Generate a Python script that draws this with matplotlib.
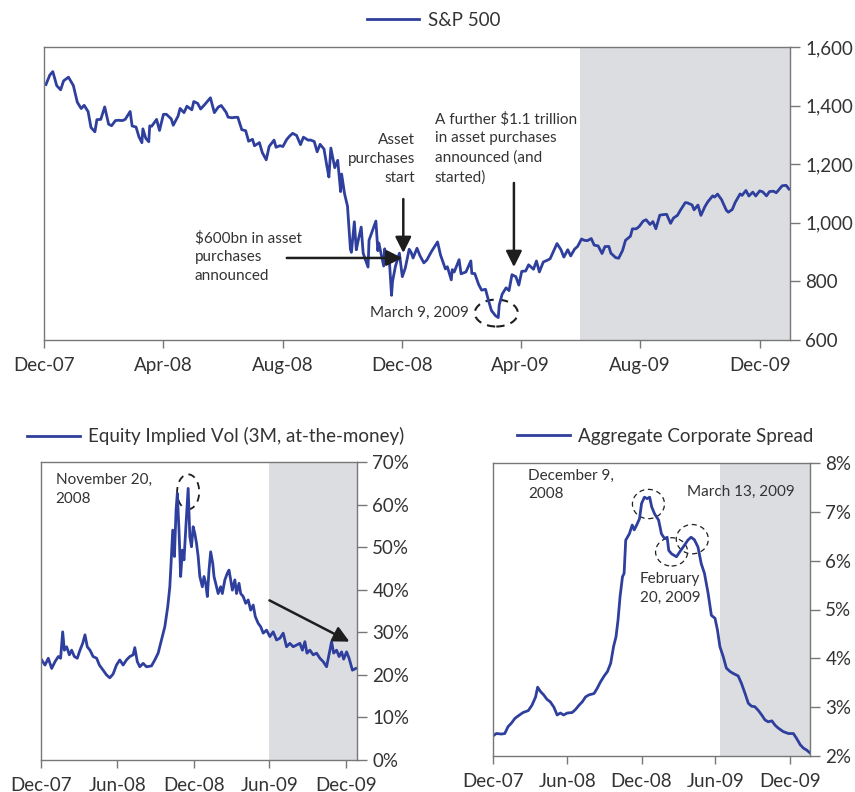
import pandas as pd
import numpy as np
import matplotlib
matplotlib.use('Agg')
import matplotlib.pyplot as plt
import matplotlib.dates as mdates
from matplotlib.lines import Line2D
from matplotlib.patches import Ellipse
from matplotlib.ticker import FuncFormatter, MultipleLocator

plt.rcParams['font.family'] = ['Lato', 'DejaVu Sans']

# S&P 500
spx_dates = ['2007-12-03', '2007-12-07', '2007-12-10', '2007-12-14', '2007-12-18', '2007-12-21', '2007-12-26',
             '2007-12-31', '2008-01-04', '2008-01-08', '2008-01-11', '2008-01-15', '2008-01-18', '2008-01-22',
             '2008-01-24', '2008-01-28', '2008-02-01', '2008-02-05', '2008-02-08', '2008-02-12', '2008-02-15',
             '2008-02-19', '2008-02-22', '2008-02-27', '2008-02-29', '2008-03-04', '2008-03-07', '2008-03-10',
             '2008-03-11', '2008-03-14', '2008-03-17', '2008-03-18', '2008-03-20', '2008-03-25', '2008-03-28',
             '2008-04-01', '2008-04-04', '2008-04-09', '2008-04-11', '2008-04-16', '2008-04-18', '2008-04-22',
             '2008-04-25', '2008-04-30', '2008-05-02', '2008-05-06', '2008-05-09', '2008-05-13', '2008-05-19',
             '2008-05-23', '2008-05-27', '2008-05-30', '2008-06-04', '2008-06-06', '2008-06-10', '2008-06-13',
             '2008-06-16', '2008-06-20', '2008-06-24', '2008-06-27', '2008-07-01', '2008-07-03', '2008-07-08',
             '2008-07-11', '2008-07-15', '2008-07-18', '2008-07-23', '2008-07-25', '2008-07-29', '2008-08-01',
             '2008-08-05', '2008-08-08', '2008-08-11', '2008-08-15', '2008-08-19', '2008-08-22', '2008-08-27',
             '2008-08-29', '2008-09-02', '2008-09-05', '2008-09-08', '2008-09-12', '2008-09-15', '2008-09-17',
             '2008-09-19', '2008-09-23', '2008-09-26', '2008-09-29', '2008-09-30', '2008-10-03', '2008-10-06',
             '2008-10-09', '2008-10-10', '2008-10-13', '2008-10-15', '2008-10-17', '2008-10-20', '2008-10-22',
             '2008-10-24', '2008-10-27', '2008-10-28', '2008-10-31', '2008-11-04', '2008-11-06', '2008-11-07',
             '2008-11-12', '2008-11-13', '2008-11-14', '2008-11-18', '2008-11-20', '2008-11-21', '2008-11-24',
             '2008-11-28', '2008-12-01', '2008-12-04', '2008-12-08', '2008-12-10', '2008-12-12', '2008-12-16',
             '2008-12-19', '2008-12-23', '2008-12-26', '2008-12-31', '2009-01-06', '2009-01-09', '2009-01-14',
             '2009-01-16', '2009-01-20', '2009-01-21', '2009-01-23', '2009-01-28', '2009-01-30', '2009-02-04',
             '2009-02-09', '2009-02-10', '2009-02-13', '2009-02-17', '2009-02-20', '2009-02-24', '2009-02-27',
             '2009-03-02', '2009-03-06', '2009-03-09', '2009-03-10', '2009-03-13', '2009-03-17', '2009-03-20',
             '2009-03-23', '2009-03-27', '2009-03-30', '2009-04-02', '2009-04-06', '2009-04-09', '2009-04-14',
             '2009-04-17', '2009-04-20', '2009-04-24', '2009-04-29', '2009-05-01', '2009-05-08', '2009-05-12',
             '2009-05-15', '2009-05-19', '2009-05-22', '2009-05-26', '2009-05-29', '2009-06-02', '2009-06-05',
             '2009-06-08', '2009-06-12', '2009-06-15', '2009-06-19', '2009-06-23', '2009-06-26', '2009-06-30',
             '2009-07-02', '2009-07-07', '2009-07-10', '2009-07-14', '2009-07-17', '2009-07-22', '2009-07-24',
             '2009-07-28', '2009-07-31', '2009-08-04', '2009-08-07', '2009-08-11', '2009-08-14', '2009-08-17',
             '2009-08-21', '2009-08-25', '2009-08-28', '2009-09-01', '2009-09-04', '2009-09-08', '2009-09-11',
             '2009-09-16', '2009-09-18', '2009-09-23', '2009-09-25', '2009-09-29', '2009-10-02', '2009-10-06',
             '2009-10-09', '2009-10-14', '2009-10-16', '2009-10-19', '2009-10-23', '2009-10-28', '2009-10-30',
             '2009-11-03', '2009-11-06', '2009-11-11', '2009-11-13', '2009-11-17', '2009-11-20', '2009-11-24',
             '2009-11-27', '2009-12-01', '2009-12-04', '2009-12-08', '2009-12-11', '2009-12-15', '2009-12-18',
             '2009-12-24', '2009-12-28', '2009-12-31']
spx_values = [1472, 1504.7, 1516, 1468, 1454, 1484.5, 1497,
              1468.4, 1411.6, 1390, 1401, 1380, 1325.2, 1310.5,
              1352, 1353, 1395.4, 1336.6, 1331.3, 1349, 1350,
              1348.8, 1353.1, 1380, 1330.6, 1326.8, 1293.4, 1273.4,
              1320.7, 1288.1, 1276.6, 1330.7, 1329.5, 1352.9, 1315.2,
              1370.2, 1370.4, 1354.5, 1332.8, 1364.7, 1390.3, 1375.9,
              1397.8, 1385.6, 1413.9, 1407.5, 1388.3, 1403, 1426.6,
              1375.9, 1395, 1400.4, 1377.2, 1360.7, 1358.4, 1360,
              1360.1, 1317.9, 1314.3, 1278.4, 1284.9, 1262.9, 1273.7,
              1239.5, 1214.9, 1260.7, 1282.2, 1257.8, 1263.2, 1260.3,
              1284.9, 1296.3, 1305.3, 1298.2, 1266.7, 1292.2, 1281.7,
              1282.8, 1277.6, 1242.3, 1267.8, 1251.7, 1192.7, 1156.4,
              1255.1, 1188.2, 1213.3, 1106.4, 1166.4, 1099.2, 1056.9,
              909.9, 899.2, 1003.4, 907.8, 940.6, 985.4, 896.8,
              876.8, 848.9, 940.5, 968.8, 1005.8, 904.9, 931.0,
              852.3, 911.3, 873.3, 859.1, 752.4, 800.0, 851.8,
              896.2, 816.2, 845.2, 909.7, 899.2, 879.7, 913.2,
              887.9, 863.2, 872.8, 903.3, 934.7, 890.4, 842.6,
              850.1, 805.2, 840.2, 832.0, 874.1, 825.9, 832.2,
              869.9, 827.2, 826.8, 789.2, 770.1, 773.1, 735.1,
              700.8, 683.4, 676.5, 719.6, 756.6, 778.1, 768.5,
              822.9, 815.9, 787.5, 834.4, 835.5, 856.6, 841.5,
              869.6, 832.4, 866.2, 873.6, 877.5, 929.2, 908.4,
              882.9, 908.1, 887.0, 910.3, 919.1, 944.7, 940.1,
              939.1, 946.2, 923.7, 921.2, 895.1, 918.9, 919.3,
              896.4, 881.0, 879.1, 905.8, 940.4, 954.1, 979.3,
              979.6, 987.5, 1005.7, 1010.5, 994.4, 1004.1, 979.7,
              1026.1, 1028.1, 1028.9, 998.0, 1016.4, 1025.4, 1042.7,
              1068.8, 1068.3, 1060.9, 1044.4, 1060.6, 1025.2, 1054.7,
              1071.5, 1092.0, 1087.7, 1097.9, 1079.6, 1042.6, 1036.2,
              1045.4, 1069.3, 1098.5, 1093.5, 1110.3, 1091.4, 1104.7,
              1091.5, 1108.9, 1106.0, 1091.9, 1106.4, 1107.9, 1102.5,
              1126.5, 1127.8, 1115.1]

# Equity implied vol, 3M ATM (%) -- x as days after 1 Dec 2007
vol_days = [1.6, 9.6, 17.5, 25.6, 33.6, 41.5, 47, 52, 56, 61.5, 68, 73.5, 80, 87, 93.5, 100, 105.5, 111,
            117.5, 125, 133.5, 140, 149, 157, 165, 173, 181, 189, 197, 205, 213, 221, 225, 231, 237, 245,
            253, 265, 273, 281, 289, 297, 304, 309, 312, 316, 320, 324, 327, 331, 335, 339, 343, 348, 353,
            357, 361, 365, 369, 373, 377, 381, 387, 391, 395, 399, 403, 407, 412, 415, 421, 425, 431, 435,
            441, 447, 451, 455, 459, 465, 469, 475, 479, 485, 491, 497, 503, 509, 514, 521, 527, 533, 541,
            549, 557, 565, 573, 581, 589, 597, 605, 613, 621, 627, 633, 638, 645, 653, 661, 669, 677, 685,
            693, 697, 702, 709, 715, 721, 726, 733, 739, 747, 755]
vol_values = [23.5, 22.3, 23.9, 21.5, 23.1, 24.3, 23.9, 30.1, 25.8, 26.6, 24.7, 25.8, 24.3, 23.9, 25.8,
              27.4, 29.4, 26.6, 25.8, 24.3, 23.9, 22.3, 21.1, 20.0, 19.3, 20.2, 22.3, 23.5, 22.3, 23.5,
              24.3, 24.7, 26.4, 23.1, 21.9, 22.7, 21.9, 22.1, 23.5, 25.1, 28.2, 31.3, 36.0, 40.7, 46.2,
              54.0, 47.8, 58.7, 62.6, 54.0, 43.1, 49.3, 47.0, 55.6, 63.8, 52.5, 50.1, 54.8, 53.2, 50.9,
              47.8, 43.1, 40.7, 43.1, 41.5, 38.4, 44.6, 48.9, 46.2, 43.1, 40.7, 39.1, 40.7, 39.1, 42.3,
              43.9, 44.6, 42.3, 39.9, 42.3, 39.1, 41.5, 39.1, 38.4, 36.8, 37.6, 35.2, 36.4, 33.7, 32.1,
              31.3, 29.8, 30.5, 29.0, 30.1, 28.2, 28.6, 29.8, 26.6, 27.4, 26.6, 27.0, 27.4, 25.8, 27.8,
              25.1, 25.8, 24.7, 25.1, 23.9, 23.1, 21.9, 25.8, 27.8, 25.1, 25.8, 24.3, 25.4, 23.7, 25.4,
              23.9, 21.1, 21.5]

# Aggregate corporate spread (%)
spr_dates = ['2007-12-01', '2007-12-09', '2007-12-22', '2007-12-30', '2008-01-07', '2008-01-15', '2008-01-24',
             '2008-02-01', '2008-02-13', '2008-02-26', '2008-03-06', '2008-03-15', '2008-03-20', '2008-03-27',
             '2008-04-04', '2008-04-12', '2008-04-20', '2008-04-29', '2008-05-07', '2008-05-15', '2008-05-23',
             '2008-06-01', '2008-06-13', '2008-06-21', '2008-06-30', '2008-07-08', '2008-07-16', '2008-07-24',
             '2008-08-06', '2008-08-14', '2008-08-22', '2008-08-31', '2008-09-08', '2008-09-16', '2008-09-23',
             '2008-09-29', '2008-10-04', '2008-10-09', '2008-10-15', '2008-10-19', '2008-10-23', '2008-11-01',
             '2008-11-08', '2008-11-13', '2008-11-19', '2008-11-26', '2008-12-01', '2008-12-08', '2008-12-15',
             '2008-12-21', '2008-12-26', '2009-01-02', '2009-01-12', '2009-01-19', '2009-01-27', '2009-02-02',
             '2009-02-06', '2009-02-13', '2009-02-25', '2009-03-05', '2009-03-17', '2009-03-25', '2009-04-02',
             '2009-04-10', '2009-04-19', '2009-04-27', '2009-05-05', '2009-05-14', '2009-05-22', '2009-05-31',
             '2009-06-06', '2009-06-12', '2009-06-20', '2009-06-28', '2009-07-07', '2009-07-15', '2009-07-27',
             '2009-08-04', '2009-08-13', '2009-08-21', '2009-08-29', '2009-09-06', '2009-09-15', '2009-09-23',
             '2009-10-01', '2009-10-09', '2009-10-18', '2009-10-26', '2009-11-03', '2009-11-15', '2009-11-28',
             '2009-12-10', '2009-12-18', '2009-12-27', '2010-01-04', '2010-01-12', '2010-01-19']
spr_values = [2.41, 2.46, 2.45, 2.46, 2.6, 2.67, 2.77,
              2.82, 2.89, 2.93, 3.04, 3.21, 3.41, 3.32,
              3.25, 3.16, 3.11, 3.0, 2.84, 2.88, 2.84,
              2.88, 2.89, 2.95, 3.04, 3.11, 3.21, 3.25,
              3.28, 3.39, 3.52, 3.64, 3.73, 3.9, 4.24,
              4.44, 4.78, 5.26, 5.67, 5.74, 6.42, 6.55,
              6.73, 6.63, 6.73, 6.86, 7.17, 7.3, 7.27,
              7.3, 7.1, 6.96, 6.83, 6.55, 6.45, 6.48,
              6.21, 6.14, 6.08, 6.18, 6.32, 6.42, 6.48,
              6.43, 6.28, 5.94, 5.74, 5.33, 4.88, 4.82,
              4.58, 4.24, 4.04, 3.8, 3.73, 3.69, 3.64,
              3.49, 3.28, 3.08, 3.02, 3.01, 2.93, 2.84,
              2.74, 2.7, 2.72, 2.63, 2.57, 2.5, 2.46,
              2.46, 2.36, 2.23, 2.16, 2.12, 2.07]

BLUE = '#2e3f9e'
SHADE = '#dcdde0'
TXT = '#333333'
SPINE = '#777777'

fig = plt.figure(figsize=(8.55, 7.92), dpi=100)
ax1 = fig.add_axes([44 / 855, 452 / 792, 746 / 855, 293 / 792])
ax2 = fig.add_axes([41 / 855, 32 / 792, 316 / 855, 298 / 792])
ax3 = fig.add_axes([493 / 855, 36 / 792, 317 / 855, 293 / 792])


def style_axis(ax, months, fontsize=13.5):
    for s in ax.spines.values():
        s.set_color(SPINE)
        s.set_linewidth(1.0)
    ax.yaxis.tick_right()
    ax.tick_params(axis='y', which='both', direction='out', length=7, width=1,
                   color=SPINE, labelcolor=TXT, labelsize=fontsize, pad=4)
    ax.tick_params(axis='x', direction='out', length=6, width=1, color=SPINE,
                   labelcolor=TXT, labelsize=fontsize, pad=6)
    ax.xaxis.set_major_locator(mdates.MonthLocator(bymonth=months, bymonthday=1))
    ax.xaxis.set_major_formatter(mdates.DateFormatter('%b-%y'))


def add_legend(ax, label, x, y):
    handle = Line2D([], [], color=BLUE, lw=2)
    leg = ax.legend([handle], [label], loc='center', bbox_to_anchor=(x, y), frameon=False,
                    handlelength=2.8, handletextpad=0.45, borderpad=0,
                    prop={'size': 13.5})
    for t in leg.get_texts():
        t.set_color(TXT)


def arrow(ax, start, end):
    ax.annotate('', xy=end, xytext=start,
                arrowprops=dict(arrowstyle='-|>', mutation_scale=24, lw=1.8,
                                color='#1e1e1e', shrinkA=0, shrinkB=0))


def ring(ax, date, val, w_days, h, lw=1.3):
    ax.add_patch(Ellipse((mdates.date2num(pd.Timestamp(date)), val), w_days, h,
                         fill=False, edgecolor='#1e1e1e', lw=lw, ls=(0, (4, 3))))


d = pd.Timestamp

# ---- top: S&P 500
ax1.axvspan(d('2009-06-01'), d('2010-01-01'), color=SHADE, lw=0)
ax1.plot(pd.to_datetime(spx_dates), spx_values, color=BLUE, lw=2)
ax1.set_xlim(d('2007-12-01'), d('2010-01-01'))
ax1.set_ylim(600, 1600)
ax1.yaxis.set_major_locator(MultipleLocator(200))
ax1.yaxis.set_major_formatter(FuncFormatter(lambda v, p: f'{v:,.0f}'))
style_axis(ax1, [12, 4, 8])
add_legend(ax1, 'S&P 500', 0.522, 1.092)

kw = dict(fontsize=11, color=TXT, linespacing=1.45)
ax1.text(d('2008-12-14'), 1218, 'Asset\npurchases\nstart', ha='right', va='center', **kw)
arrow(ax1, (d('2008-12-02'), 1081), (d('2008-12-02'), 897))
ax1.text(d('2008-05-03'), 883, '$600bn in asset\npurchases\nannounced', ha='left', va='center', **kw)
arrow(ax1, (d('2008-08-05'), 880), (d('2008-12-01'), 880))
ax1.text(d('2009-01-03'), 1255, 'A further $1.1 trillion\nin asset purchases\nannounced (and\nstarted)',
         ha='left', va='center', **kw)
arrow(ax1, (d('2009-03-25'), 1136), (d('2009-03-25'), 849))
ax1.text(d('2009-02-07'), 692, 'March 9, 2009', ha='right', va='center', **kw)
ring(ax1, '2009-03-07', 692, 44, 92, lw=1.5)

# ---- bottom left: implied vol
vol_x = d('2007-12-01') + pd.to_timedelta(vol_days, unit='D')
ax2.axvspan(d('2009-06-01'), d('2009-12-28'), color=SHADE, lw=0)
ax2.plot(vol_x, vol_values, color=BLUE, lw=2)
ax2.set_xlim(d('2007-12-01'), d('2009-12-28'))
ax2.set_ylim(0, 70)
ax2.yaxis.set_major_locator(MultipleLocator(10))
ax2.yaxis.set_major_formatter(FuncFormatter(lambda v, p: f'{v:.0f}%'))
style_axis(ax2, [12, 6])
add_legend(ax2, 'Equity Implied Vol (3M, at-the-money)', 0.554, 1.087)
ax2.text(d('2008-01-05'), 63.5, 'November 20,\n2008', ha='left', va='center', **kw)
ring(ax2, '2008-11-18', 63, 53, 8.2, lw=1.3)
arrow(ax2, (d('2009-06-01'), 37.5), (d('2009-12-10'), 27.8))

# ---- bottom right: corporate spread
ax3.axvspan(d('2009-06-12'), d('2010-01-20'), color=SHADE, lw=0)
ax3.plot(pd.to_datetime(spr_dates), spr_values, color=BLUE, lw=2)
ax3.set_xlim(d('2007-12-01'), d('2010-01-20'))
ax3.set_ylim(2, 8)
ax3.yaxis.set_major_locator(MultipleLocator(1))
ax3.yaxis.set_major_formatter(FuncFormatter(lambda v, p: f'{v:.0f}%'))
style_axis(ax3, [12, 6])
add_legend(ax3, 'Aggregate Corporate Spread', 0.544, 1.092)
ax3.text(d('2008-02-25'), 7.55, 'December 9,\n2008', ha='left', va='center', **kw)
ax3.text(d('2009-03-22'), 7.4, 'March 13, 2009', ha='left', va='center', **kw)
ax3.text(d('2008-11-26'), 5.43, 'February\n20, 2009', ha='left', va='center', **kw)
ring(ax3, '2008-12-18', 7.16, 79, 0.6, lw=0.9)
ring(ax3, '2009-02-13', 6.18, 79, 0.58, lw=0.9)
ring(ax3, '2009-04-05', 6.44, 79, 0.6, lw=0.9)

fig.savefig('out.png', dpi=100)
